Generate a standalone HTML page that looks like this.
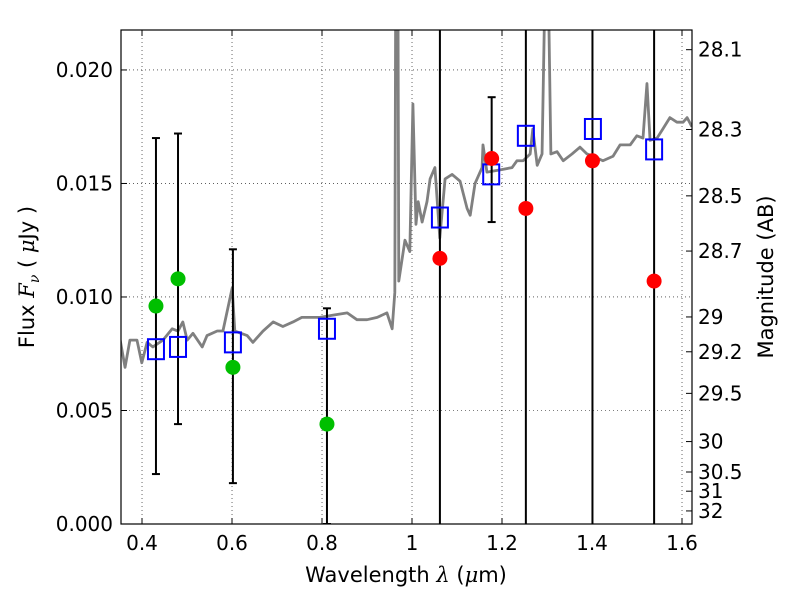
<!DOCTYPE html>
<html><head><meta charset="utf-8"><style>
body{margin:0;background:#fff}
svg text{font-family:"DejaVu Sans","Liberation Sans",sans-serif;fill:#000}
</style></head><body>
<svg id="c" width="800" height="600" xmlns="http://www.w3.org/2000/svg"></svg>
<script>
const specLam=[0.3515,0.3623,0.3731,0.3888,0.3995,0.4113,0.4240,0.4466,0.4671,0.4799,0.4907,0.5004,0.5132,0.5338,0.5445,0.5671,0.5798,0.6004,0.6062,0.6337,0.6464,0.6689,0.6915,0.7130,0.7355,0.7551,0.7737,0.7953,0.8247,0.8560,0.8776,0.9001,0.9226,0.9442,0.9559,0.9618,0.9638,0.9687,0.9706,0.9843,0.9951,1.0020,1.0088,1.0137,1.0225,1.0333,1.0402,1.0509,1.0617,1.0735,1.0891,1.1068,1.1224,1.1293,1.1401,1.1557,1.1577,1.1665,1.1959,1.2224,1.2331,1.2469,1.2625,1.2684,1.2782,1.2890,1.2958,1.3027,1.3086,1.3223,1.3360,1.3556,1.3732,1.3889,1.4026,1.4242,1.4467,1.4624,1.4849,1.4996,1.5133,1.5221,1.5290,1.5446,1.5574,1.5731,1.5887,1.6024,1.6113,1.6220];
const specFlux=[0.0081,0.0069,0.0081,0.0081,0.0071,0.0080,0.0078,0.0081,0.0086,0.0085,0.0089,0.0081,0.0084,0.0078,0.0083,0.0085,0.0085,0.0104,0.0085,0.0083,0.0080,0.0085,0.0089,0.0087,0.0089,0.0091,0.0091,0.0091,0.0092,0.0093,0.0090,0.0090,0.0091,0.0093,0.0086,0.0102,0.024,0.024,0.0107,0.0125,0.0120,0.0185,0.0132,0.0142,0.0133,0.0142,0.0152,0.0157,0.0126,0.0152,0.0154,0.0151,0.0139,0.0136,0.0150,0.0157,0.0167,0.0155,0.0156,0.0157,0.0160,0.0160,0.0163,0.0174,0.0158,0.0163,0.024,0.024,0.0163,0.0164,0.0160,0.0163,0.0166,0.0163,0.0162,0.0160,0.0162,0.0167,0.0167,0.0171,0.0170,0.0194,0.0169,0.0170,0.0174,0.0179,0.0177,0.0177,0.0179,0.0175];
const greenLam=[0.431,0.480,0.602,0.811];
const greenFlux=[0.0096,0.0108,0.0069,0.0044];
const errLam=[0.431,0.480,0.602,0.811,1.177];
const errLo=[0.0022,0.0044,0.0018,0.0,0.0133];
const errHi=[0.0170,0.0172,0.0121,0.0095,0.0188];
const redLam=[1.062,1.177,1.253,1.401,1.538];
const redFlux=[0.0117,0.0161,0.0139,0.0160,0.0107];
const vlineLam=[1.062,1.253,1.401,1.538];
const boxLam=[0.431,0.480,0.602,0.811,1.062,1.176,1.253,1.402,1.538];
const boxFlux=[0.0077,0.0078,0.0080,0.0086,0.0135,0.0154,0.0171,0.0174,0.0165];
const xTicks=[0.4,0.6,0.8,1.0,1.2,1.4,1.6];
const xTickLabels=["0.4","0.6","0.8","1","1.2","1.4","1.6"];
const yTicks=[0,0.005,0.01,0.015,0.02];
const yTickLabels=["0.000","0.005","0.010","0.015","0.020"];
const magTicks=[28.1,28.3,28.5,28.7,29,29.2,29.5,30,30.5,31,32];
const magLabels=["28.1","28.3","28.5","28.7","29","29.2","29.5","30","30.5","31","32"];

const L=121,R=692,T=30,B=524;
const xmin=0.3533,xmax=1.6222,ymin=0,ymax=0.02176;
const X=v=>L+(v-xmin)/(xmax-xmin)*(R-L);
const Y=v=>B-(v-ymin)/(ymax-ymin)*(B-T);
const svg=document.getElementById('c');
const NS='http://www.w3.org/2000/svg';
function el(t,a,p){const e=document.createElementNS(NS,t);for(const k in a)e.setAttribute(k,a[k]);(p||svg).appendChild(e);return e;}
const defs=el('defs',{});const cp=el('clipPath',{id:'cp'},defs);el('rect',{x:L,y:T,width:R-L,height:B-T},cp);
const g=el('g',{'clip-path':'url(#cp)'});
xTicks.forEach(v=>{const e=el('line',{x1:X(v),x2:X(v),y1:T,y2:B,stroke:'#000','stroke-width':0.6,'stroke-dasharray':'1,3'},g);

});
yTicks.forEach(v=>{const e=el('line',{x1:L,x2:R,y1:Y(v),y2:Y(v),stroke:'#000','stroke-width':0.6,'stroke-dasharray':'1,3'},g);

});
const sp=el('polyline',{points:specLam.map((l,i)=>X(l)+','+Y(specFlux[i])).join(' '),fill:'none',stroke:'#808080','stroke-width':2.8,'stroke-linejoin':'round'},g);


vlineLam.forEach(v=>{const e=el('line',{x1:X(v),x2:X(v),y1:T,y2:B,stroke:'#000','stroke-width':2},g);

});
errLam.forEach((v,i)=>{const gg=el('g',{},g);


const x=X(v),y1=Y(errLo[i]),y2=Y(errHi[i]);
el('line',{x1:x,x2:x,y1:y1,y2:y2,stroke:'#000','stroke-width':2},gg);
el('line',{x1:x-4,x2:x+4,y1:y1,y2:y1,stroke:'#000','stroke-width':2},gg);
el('line',{x1:x-4,x2:x+4,y1:y2,y2:y2,stroke:'#000','stroke-width':2},gg);});
boxLam.forEach((v,i)=>{const e=el('rect',{x:X(v)-8,y:Y(boxFlux[i])-10,width:16,height:20,fill:'none',stroke:'#0000ff','stroke-width':2},g);

});
greenLam.forEach((v,i)=>{const e=el('circle',{cx:X(v),cy:Y(greenFlux[i]),r:7.5,fill:'#00bf00'},g);

});
redLam.forEach((v,i)=>{const e=el('circle',{cx:X(v),cy:Y(redFlux[i]),r:7.5,fill:'#ff0000'},g);

});
el('rect',{x:L,y:T,width:R-L,height:B-T,fill:'none',stroke:'#000','stroke-width':1.2});
xTicks.forEach((v,i)=>{const x=X(v);
el('line',{x1:x,x2:x,y1:B,y2:B-6,stroke:'#000'});el('line',{x1:x,x2:x,y1:T,y2:T+6,stroke:'#000'});
const t=el('text',{x:x,y:B+26,'font-size':20,'text-anchor':'middle'});t.textContent=xTickLabels[i];

});
yTicks.forEach((v,i)=>{const y=Y(v);
el('line',{x1:L,x2:L+6,y1:y,y2:y,stroke:'#000'});
const t=el('text',{x:L-8,y:y+7,'font-size':20,'text-anchor':'end'});t.textContent=yTickLabels[i];

});
magTicks.forEach((m,i)=>{const f=Math.pow(10,(23.9-m)/2.5);const y=Y(f);
el('line',{x1:R,x2:R-6,y1:y,y2:y,stroke:'#000'});
const t=el('text',{x:R+6,y:y+7,'font-size':20});t.textContent=magLabels[i];

});
</script>
<svg width="800" height="600" style="position:absolute;left:0;top:0" xmlns="http://www.w3.org/2000/svg">
<text x="406" y="582" font-size="21" text-anchor="middle" style="font-family:'DejaVu Sans',sans-serif">Wavelength  <tspan font-style="italic" font-family="DejaVu Serif">λ</tspan> (<tspan font-style="italic" font-family="DejaVu Serif">μ</tspan>m)</text>
<text transform="translate(34,277) rotate(-90)" font-size="21" text-anchor="middle" style="font-family:'DejaVu Sans',sans-serif">Flux  <tspan font-style="italic" font-family="DejaVu Serif">F</tspan><tspan font-style="italic" font-size="14" dy="5" font-family="DejaVu Serif">ν</tspan><tspan dy="-5">  ( </tspan><tspan font-style="italic" font-family="DejaVu Serif">μ</tspan>Jy )</text>
<text transform="translate(773,277) rotate(-90)" font-size="21" text-anchor="middle" style="font-family:'DejaVu Sans',sans-serif">Magnitude (AB)</text>
</svg>
</body></html>
